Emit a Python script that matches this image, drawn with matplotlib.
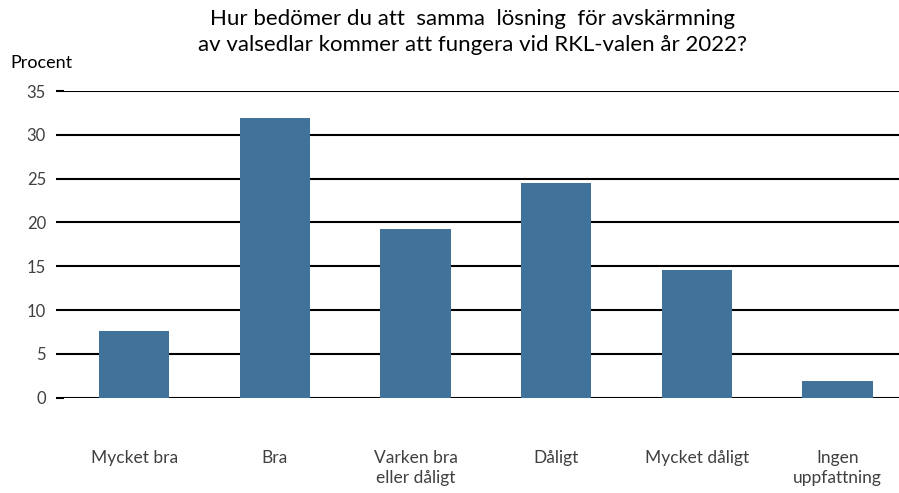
import matplotlib.pyplot as plt

categories = ['Mycket bra', 'Bra', 'Varken bra\neller dåligt', 'Dåligt', 'Mycket dåligt', 'Ingen\nuppfattning']
values = [7.6, 31.9, 19.2, 24.5, 14.6, 1.9]
yticks = [0, 5, 10, 15, 20, 25, 30, 35]

plt.rcParams['font.family'] = ['Lato', 'DejaVu Sans']

fig = plt.figure(figsize=(8.99, 4.93), dpi=100)
ax = fig.add_axes([64 / 899, 1 - 397.7 / 493, 844 / 899, 306.7 / 493])

x = range(len(categories))
ax.bar(x, values, width=0.5, color='#41739a', zorder=3)

ax.set_ylim(0, 35)
ax.set_xlim(-0.5, 5.5)
ax.set_yticks(yticks)
ax.yaxis.grid(True, color='black', linewidth=1.5, zorder=0)
ax.set_axisbelow(True)
ax.set_xticks(list(x))
ax.set_xticklabels(categories, fontsize=12.5, color='#404040', linespacing=1.3, va='top')
ax.tick_params(axis='x', length=0, pad=38)
ax.tick_params(axis='y', length=6, width=1.5, color='black', labelsize=12, labelcolor='#404040', pad=7)
for s in ax.spines.values():
    s.set_visible(False)

fig.text(10 / 899, 1 - 63 / 493, 'Procent', fontsize=13, va='center', ha='left')
fig.text(472 / 899, 1 - 32 / 493,
         'Hur bedömer du att  samma  lösning  för avskärmning\nav valsedlar kommer att fungera vid RKL-valen år 2022?',
         fontsize=16, ha='center', va='center', linespacing=1.35)

fig.savefig('out.png', dpi=100)
